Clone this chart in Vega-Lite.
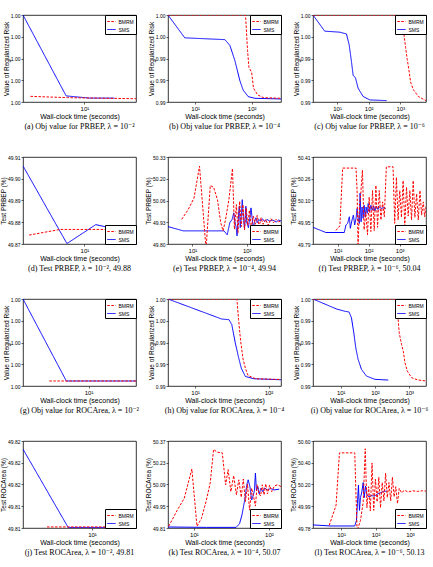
{
  "$schema": "https://vega.github.io/schema/vega-lite/v6.json",
  "background": "white",
  "padding": {"left": 0, "top": 12, "right": 0, "bottom": 0},
  "columns": 3,
  "bounds": "flush",
  "spacing": {"row": 55, "column": 32},
  "resolve": {
    "scale": {"x": "independent", "y": "independent", "color": "independent", "strokeDash": "independent"},
    "legend": {"color": "independent", "strokeDash": "independent"}
  },
  "datasets": {
    "a": [
      {"method": "SMS", "time": 2.86, "value": 1.004},
      {"method": "SMS", "time": 6.89, "value": 1.00028},
      {"method": "SMS", "time": 11.1, "value": 1.00018},
      {"method": "SMS", "time": 18.4, "value": 1.00018},
      {"method": "BMRM", "time": 3.33, "value": 1.00026},
      {"method": "BMRM", "time": 7.1, "value": 1.0002},
      {"method": "BMRM", "time": 28.6, "value": 1.00015}
    ],
    "b": [
      {"method": "SMS", "time": 3.31, "value": 1.002},
      {"method": "SMS", "time": 6.55, "value": 0.9978},
      {"method": "SMS", "time": 33.6, "value": 0.99747},
      {"method": "SMS", "time": 41.2, "value": 0.99642},
      {"method": "SMS", "time": 50.5, "value": 0.99363},
      {"method": "SMS", "time": 62, "value": 0.9899},
      {"method": "SMS", "time": 71, "value": 0.98817},
      {"method": "SMS", "time": 87, "value": 0.98699},
      {"method": "SMS", "time": 114, "value": 0.98668},
      {"method": "SMS", "time": 331, "value": 0.98656},
      {"method": "BMRM", "time": 3.31, "value": 1.002},
      {"method": "BMRM", "time": 78, "value": 1.002},
      {"method": "BMRM", "time": 84.7, "value": 0.99549},
      {"method": "BMRM", "time": 89.5, "value": 0.99239},
      {"method": "BMRM", "time": 100, "value": 0.99146},
      {"method": "BMRM", "time": 108, "value": 0.98854},
      {"method": "BMRM", "time": 128, "value": 0.9873},
      {"method": "BMRM", "time": 161, "value": 0.9868},
      {"method": "BMRM", "time": 331, "value": 0.98668}
    ],
    "c": [
      {"method": "SMS", "time": 1.74, "value": 1.002},
      {"method": "SMS", "time": 4.07, "value": 0.99903},
      {"method": "SMS", "time": 12.2, "value": 0.99884},
      {"method": "SMS", "time": 19.8, "value": 0.99852},
      {"method": "SMS", "time": 24, "value": 0.99662},
      {"method": "SMS", "time": 28.5, "value": 0.99346},
      {"method": "SMS", "time": 32.2, "value": 0.99093},
      {"method": "SMS", "time": 38.2, "value": 0.99043},
      {"method": "SMS", "time": 46.3, "value": 0.98853},
      {"method": "SMS", "time": 66.8, "value": 0.98701},
      {"method": "SMS", "time": 109, "value": 0.98638},
      {"method": "SMS", "time": 366, "value": 0.98626},
      {"method": "BMRM", "time": 1.74, "value": 1.002},
      {"method": "BMRM", "time": 1094, "value": 1.002},
      {"method": "BMRM", "time": 1297, "value": 0.99852},
      {"method": "BMRM", "time": 1466, "value": 0.996},
      {"method": "BMRM", "time": 1652, "value": 0.99378},
      {"method": "BMRM", "time": 1866, "value": 0.99188},
      {"method": "BMRM", "time": 2109, "value": 0.98967},
      {"method": "BMRM", "time": 2570, "value": 0.98828},
      {"method": "BMRM", "time": 3690, "value": 0.98701},
      {"method": "BMRM", "time": 6457, "value": 0.98626}
    ],
    "d": [
      {"method": "SMS", "time": 2.86, "value": 49.9059},
      {"method": "SMS", "time": 7.0, "value": 49.8702},
      {"method": "SMS", "time": 12.6, "value": 49.8789},
      {"method": "SMS", "time": 19.6, "value": 49.8767},
      {"method": "SMS", "time": 24.1, "value": 49.8767},
      {"method": "BMRM", "time": 3.24, "value": 49.8741},
      {"method": "BMRM", "time": 6.1, "value": 49.8767},
      {"method": "BMRM", "time": 19.6, "value": 49.8767},
      {"method": "BMRM", "time": 28.6, "value": 49.8767}
    ],
    "e": [
      {"method": "SMS", "time": 3.55, "value": 49.906},
      {"method": "SMS", "time": 6.79, "value": 49.88},
      {"method": "SMS", "time": 38.1, "value": 49.88},
      {"method": "SMS", "time": 43.7, "value": 49.856},
      {"method": "SMS", "time": 48.8, "value": 49.93},
      {"method": "SMS", "time": 53.8, "value": 49.95},
      {"method": "SMS", "time": 57.7, "value": 49.99},
      {"method": "SMS", "time": 60.1, "value": 49.94},
      {"method": "SMS", "time": 63.5, "value": 49.906},
      {"method": "SMS", "time": 66.2, "value": 49.85},
      {"method": "SMS", "time": 69.0, "value": 49.93},
      {"method": "SMS", "time": 72.9, "value": 50.03},
      {"method": "SMS", "time": 76.0, "value": 49.9},
      {"method": "SMS", "time": 79.3, "value": 49.97},
      {"method": "SMS", "time": 82.6, "value": 50.07},
      {"method": "SMS", "time": 87.3, "value": 49.95},
      {"method": "SMS", "time": 91.0, "value": 49.894},
      {"method": "SMS", "time": 96.2, "value": 50.03},
      {"method": "SMS", "time": 100.2, "value": 49.93},
      {"method": "SMS", "time": 107.4, "value": 49.9},
      {"method": "SMS", "time": 115.1, "value": 49.97},
      {"method": "SMS", "time": 119.7, "value": 50.02},
      {"method": "SMS", "time": 126.5, "value": 49.95},
      {"method": "SMS", "time": 131.9, "value": 49.894},
      {"method": "SMS", "time": 139.3, "value": 49.94},
      {"method": "SMS", "time": 147.2, "value": 49.96},
      {"method": "SMS", "time": 155.6, "value": 49.93},
      {"method": "SMS", "time": 166.7, "value": 49.95},
      {"method": "SMS", "time": 178.6, "value": 49.94},
      {"method": "SMS", "time": 194.1, "value": 49.954},
      {"method": "SMS", "time": 213.8, "value": 49.936},
      {"method": "SMS", "time": 235.5, "value": 49.95},
      {"method": "SMS", "time": 263, "value": 49.94},
      {"method": "SMS", "time": 302, "value": 49.946},
      {"method": "SMS", "time": 347, "value": 49.934},
      {"method": "SMS", "time": 387, "value": 49.946},
      {"method": "SMS", "time": 427, "value": 49.94},
      {"method": "BMRM", "time": 6.34, "value": 49.95},
      {"method": "BMRM", "time": 8.36, "value": 50.01},
      {"method": "BMRM", "time": 10.7, "value": 50.08},
      {"method": "BMRM", "time": 13.5, "value": 50.274},
      {"method": "BMRM", "time": 17.8, "value": 49.77},
      {"method": "BMRM", "time": 21.3, "value": 50.156},
      {"method": "BMRM", "time": 24.5, "value": 50.146},
      {"method": "BMRM", "time": 28.9, "value": 50.07},
      {"method": "BMRM", "time": 33.2, "value": 49.93},
      {"method": "BMRM", "time": 36.6, "value": 49.88},
      {"method": "BMRM", "time": 40.8, "value": 49.95},
      {"method": "BMRM", "time": 46.9, "value": 50.07},
      {"method": "BMRM", "time": 54.6, "value": 50.26},
      {"method": "BMRM", "time": 59.3, "value": 49.89},
      {"method": "BMRM", "time": 64.4, "value": 50.04},
      {"method": "BMRM", "time": 69.0, "value": 49.87},
      {"method": "BMRM", "time": 74.0, "value": 50.06},
      {"method": "BMRM", "time": 79.3, "value": 49.906},
      {"method": "BMRM", "time": 84.9, "value": 50.04},
      {"method": "BMRM", "time": 91.0, "value": 49.886},
      {"method": "BMRM", "time": 97.5, "value": 50.02},
      {"method": "BMRM", "time": 104.5, "value": 49.914},
      {"method": "BMRM", "time": 111.9, "value": 50.006},
      {"method": "BMRM", "time": 121.4, "value": 49.9},
      {"method": "BMRM", "time": 131.9, "value": 49.97},
      {"method": "BMRM", "time": 143.2, "value": 49.92},
      {"method": "BMRM", "time": 155.6, "value": 49.974},
      {"method": "BMRM", "time": 169.0, "value": 49.906},
      {"method": "BMRM", "time": 183.6, "value": 49.96},
      {"method": "BMRM", "time": 199.5, "value": 49.92},
      {"method": "BMRM", "time": 222.8, "value": 49.95},
      {"method": "BMRM", "time": 248.9, "value": 49.914},
      {"method": "BMRM", "time": 278, "value": 49.954},
      {"method": "BMRM", "time": 310, "value": 49.93},
      {"method": "BMRM", "time": 347, "value": 49.95},
      {"method": "BMRM", "time": 387, "value": 49.934},
      {"method": "BMRM", "time": 427, "value": 49.944}
    ],
    "f": [
      {"method": "SMS", "time": 1.62, "value": 49.909},
      {"method": "SMS", "time": 4.19, "value": 49.872},
      {"method": "SMS", "time": 16.5, "value": 49.872},
      {"method": "SMS", "time": 18.7, "value": 49.926},
      {"method": "SMS", "time": 21.2, "value": 49.937},
      {"method": "SMS", "time": 24.0, "value": 49.984},
      {"method": "SMS", "time": 25.8, "value": 49.902},
      {"method": "SMS", "time": 29.3, "value": 49.961},
      {"method": "SMS", "time": 32.4, "value": 49.996},
      {"method": "SMS", "time": 35.7, "value": 49.926},
      {"method": "SMS", "time": 39.5, "value": 49.973},
      {"method": "SMS", "time": 42.6, "value": 50.043},
      {"method": "SMS", "time": 47.0, "value": 49.961},
      {"method": "SMS", "time": 50.7, "value": 49.937},
      {"method": "SMS", "time": 53.3, "value": 50.153},
      {"method": "SMS", "time": 57.4, "value": 49.949},
      {"method": "SMS", "time": 61.9, "value": 50.054},
      {"method": "SMS", "time": 66.7, "value": 49.973},
      {"method": "SMS", "time": 71.9, "value": 50.066},
      {"method": "SMS", "time": 77.5, "value": 49.984},
      {"method": "SMS", "time": 83.6, "value": 50.054},
      {"method": "SMS", "time": 90.0, "value": 50.008},
      {"method": "SMS", "time": 97.1, "value": 50.078},
      {"method": "SMS", "time": 107.2, "value": 50.019},
      {"method": "SMS", "time": 118.4, "value": 50.066},
      {"method": "SMS", "time": 130.9, "value": 50.031},
      {"method": "SMS", "time": 144.5, "value": 50.059},
      {"method": "SMS", "time": 159.7, "value": 50.026},
      {"method": "SMS", "time": 176.6, "value": 50.059},
      {"method": "SMS", "time": 200, "value": 50.036},
      {"method": "SMS", "time": 226.5, "value": 50.054},
      {"method": "SMS", "time": 256.6, "value": 50.043},
      {"method": "SMS", "time": 305.5, "value": 50.05},
      {"method": "SMS", "time": 354.8, "value": 50.043},
      {"method": "BMRM", "time": 8.85, "value": 49.886},
      {"method": "BMRM", "time": 11.9, "value": 49.919},
      {"method": "BMRM", "time": 14.6, "value": 50.331},
      {"method": "BMRM", "time": 39.5, "value": 50.331},
      {"method": "BMRM", "time": 42.6, "value": 50.171},
      {"method": "BMRM", "time": 45.9, "value": 49.774},
      {"method": "BMRM", "time": 50.7, "value": 50.054},
      {"method": "BMRM", "time": 56.0, "value": 50.148},
      {"method": "BMRM", "time": 63.4, "value": 50.317},
      {"method": "BMRM", "time": 71.9, "value": 49.891},
      {"method": "BMRM", "time": 81.5, "value": 50.019},
      {"method": "BMRM", "time": 92.3, "value": 49.856},
      {"method": "BMRM", "time": 104.5, "value": 50.125},
      {"method": "BMRM", "time": 118.4, "value": 49.879},
      {"method": "BMRM", "time": 134.0, "value": 50.171},
      {"method": "BMRM", "time": 152.1, "value": 49.886},
      {"method": "BMRM", "time": 172.2, "value": 50.207},
      {"method": "BMRM", "time": 195.0, "value": 49.909},
      {"method": "BMRM", "time": 220.8, "value": 50.171},
      {"method": "BMRM", "time": 250.0, "value": 49.961},
      {"method": "BMRM", "time": 283.1, "value": 50.09},
      {"method": "BMRM", "time": 321.4, "value": 49.984},
      {"method": "BMRM", "time": 373.3, "value": 50.34},
      {"method": "BMRM", "time": 614, "value": 50.34},
      {"method": "BMRM", "time": 695, "value": 49.937},
      {"method": "BMRM", "time": 789, "value": 50.265},
      {"method": "BMRM", "time": 893, "value": 49.961},
      {"method": "BMRM", "time": 1012, "value": 50.171},
      {"method": "BMRM", "time": 1146, "value": 49.98},
      {"method": "BMRM", "time": 1297, "value": 50.242},
      {"method": "BMRM", "time": 1469, "value": 49.919},
      {"method": "BMRM", "time": 1667, "value": 50.195},
      {"method": "BMRM", "time": 1888, "value": 49.989},
      {"method": "BMRM", "time": 2138, "value": 50.171},
      {"method": "BMRM", "time": 2421, "value": 49.961},
      {"method": "BMRM", "time": 2742, "value": 50.242},
      {"method": "BMRM", "time": 3105, "value": 49.98},
      {"method": "BMRM", "time": 3524, "value": 50.148},
      {"method": "BMRM", "time": 3990, "value": 49.961},
      {"method": "BMRM", "time": 4519, "value": 50.171},
      {"method": "BMRM", "time": 5117, "value": 49.996},
      {"method": "BMRM", "time": 5794, "value": 50.09},
      {"method": "BMRM", "time": 6400, "value": 49.984},
      {"method": "BMRM", "time": 7079, "value": 50.054}
    ],
    "g": [
      {"method": "SMS", "time": 2.63, "value": 1.004},
      {"method": "SMS", "time": 6.36, "value": 1.00023},
      {"method": "SMS", "time": 26.3, "value": 1.00023},
      {"method": "BMRM", "time": 4.5, "value": 1.00023},
      {"method": "BMRM", "time": 26.3, "value": 1.00023}
    ],
    "h": [
      {"method": "SMS", "time": 4.27, "value": 1.002},
      {"method": "SMS", "time": 22.96, "value": 0.99832},
      {"method": "SMS", "time": 29.0, "value": 0.99819},
      {"method": "SMS", "time": 31.6, "value": 0.9973},
      {"method": "SMS", "time": 35.2, "value": 0.99397},
      {"method": "SMS", "time": 39.1, "value": 0.99125},
      {"method": "SMS", "time": 42.6, "value": 0.98926},
      {"method": "SMS", "time": 48.4, "value": 0.98775},
      {"method": "SMS", "time": 63.3, "value": 0.98733},
      {"method": "SMS", "time": 148, "value": 0.98715},
      {"method": "BMRM", "time": 4.27, "value": 1.002},
      {"method": "BMRM", "time": 37.1, "value": 1.002},
      {"method": "BMRM", "time": 39.1, "value": 0.99819},
      {"method": "BMRM", "time": 41.7, "value": 0.99427},
      {"method": "BMRM", "time": 45.0, "value": 0.99095},
      {"method": "BMRM", "time": 48.4, "value": 0.98926},
      {"method": "BMRM", "time": 52.7, "value": 0.98793},
      {"method": "BMRM", "time": 66.7, "value": 0.98733},
      {"method": "BMRM", "time": 148, "value": 0.9872}
    ],
    "i": [
      {"method": "SMS", "time": 1.55, "value": 0.998},
      {"method": "SMS", "time": 7.46, "value": 0.99663},
      {"method": "SMS", "time": 13.1, "value": 0.99631},
      {"method": "SMS", "time": 17.5, "value": 0.99621},
      {"method": "SMS", "time": 20.6, "value": 0.99539},
      {"method": "SMS", "time": 24.1, "value": 0.99333},
      {"method": "SMS", "time": 27.5, "value": 0.99127},
      {"method": "SMS", "time": 32.2, "value": 0.98966},
      {"method": "SMS", "time": 40.4, "value": 0.98829},
      {"method": "SMS", "time": 56.5, "value": 0.98737},
      {"method": "SMS", "time": 99.1, "value": 0.98692},
      {"method": "SMS", "time": 244, "value": 0.98682},
      {"method": "BMRM", "time": 1.55, "value": 0.998},
      {"method": "BMRM", "time": 428, "value": 0.998},
      {"method": "BMRM", "time": 457, "value": 0.99608},
      {"method": "BMRM", "time": 511, "value": 0.99333},
      {"method": "BMRM", "time": 598, "value": 0.99173},
      {"method": "BMRM", "time": 670, "value": 0.99081},
      {"method": "BMRM", "time": 751, "value": 0.9892},
      {"method": "BMRM", "time": 880, "value": 0.98806},
      {"method": "BMRM", "time": 1178, "value": 0.98714},
      {"method": "BMRM", "time": 1845, "value": 0.98682},
      {"method": "BMRM", "time": 3090, "value": 0.98669}
    ],
    "j": [
      {"method": "SMS", "time": 2.45, "value": 49.8225},
      {"method": "SMS", "time": 6.15, "value": 49.8081},
      {"method": "SMS", "time": 24.5, "value": 49.8081},
      {"method": "BMRM", "time": 4.0, "value": 49.8082},
      {"method": "BMRM", "time": 24.5, "value": 49.8082}
    ],
    "k": [
      {"method": "SMS", "time": 4.52, "value": 49.8165},
      {"method": "SMS", "time": 14.8, "value": 49.814},
      {"method": "SMS", "time": 36.5, "value": 49.814},
      {"method": "SMS", "time": 40.6, "value": 49.838},
      {"method": "SMS", "time": 43.7, "value": 49.893},
      {"method": "SMS", "time": 47.6, "value": 49.99},
      {"method": "SMS", "time": 50.7, "value": 50.088},
      {"method": "SMS", "time": 52.9, "value": 50.12},
      {"method": "SMS", "time": 55.8, "value": 50.077},
      {"method": "SMS", "time": 58.9, "value": 49.99},
      {"method": "SMS", "time": 61.4, "value": 50.016},
      {"method": "SMS", "time": 64.1, "value": 50.051},
      {"method": "SMS", "time": 66.1, "value": 50.164},
      {"method": "SMS", "time": 68.2, "value": 50.051},
      {"method": "SMS", "time": 71.2, "value": 50.077},
      {"method": "SMS", "time": 74.3, "value": 50.029},
      {"method": "SMS", "time": 78.3, "value": 50.066},
      {"method": "SMS", "time": 82.6, "value": 50.044},
      {"method": "SMS", "time": 88.1, "value": 50.068},
      {"method": "SMS", "time": 94.8, "value": 50.055},
      {"method": "SMS", "time": 105.4, "value": 50.064},
      {"method": "SMS", "time": 117.2, "value": 50.055},
      {"method": "SMS", "time": 137.4, "value": 50.06},
      {"method": "BMRM", "time": 4.62, "value": 49.821},
      {"method": "BMRM", "time": 6.01, "value": 49.925},
      {"method": "BMRM", "time": 7.44, "value": 50.001},
      {"method": "BMRM", "time": 9.4, "value": 50.19},
      {"method": "BMRM", "time": 11.0, "value": 49.821},
      {"method": "BMRM", "time": 12.6, "value": 49.871},
      {"method": "BMRM", "time": 14.5, "value": 49.979},
      {"method": "BMRM", "time": 16.5, "value": 50.099},
      {"method": "BMRM", "time": 18.3, "value": 50.316},
      {"method": "BMRM", "time": 20.4, "value": 50.298},
      {"method": "BMRM", "time": 23.9, "value": 50.294},
      {"method": "BMRM", "time": 26.5, "value": 50.088},
      {"method": "BMRM", "time": 28.6, "value": 50.186},
      {"method": "BMRM", "time": 31.1, "value": 50.044},
      {"method": "BMRM", "time": 33.9, "value": 50.147},
      {"method": "BMRM", "time": 36.9, "value": 50.023},
      {"method": "BMRM", "time": 39.7, "value": 50.12},
      {"method": "BMRM", "time": 42.8, "value": 50.008},
      {"method": "BMRM", "time": 45.6, "value": 50.125},
      {"method": "BMRM", "time": 48.6, "value": 49.979},
      {"method": "BMRM", "time": 51.8, "value": 50.094},
      {"method": "BMRM", "time": 55.2, "value": 49.925},
      {"method": "BMRM", "time": 58.9, "value": 50.066},
      {"method": "BMRM", "time": 62.7, "value": 50.008},
      {"method": "BMRM", "time": 66.1, "value": 49.951},
      {"method": "BMRM", "time": 69.7, "value": 50.088},
      {"method": "BMRM", "time": 73.5, "value": 50.034},
      {"method": "BMRM", "time": 77.5, "value": 50.016},
      {"method": "BMRM", "time": 81.7, "value": 50.088},
      {"method": "BMRM", "time": 86.1, "value": 50.023},
      {"method": "BMRM", "time": 90.8, "value": 50.094},
      {"method": "BMRM", "time": 95.7, "value": 50.029},
      {"method": "BMRM", "time": 102.1, "value": 50.086},
      {"method": "BMRM", "time": 108.9, "value": 50.044},
      {"method": "BMRM", "time": 118.6, "value": 50.081},
      {"method": "BMRM", "time": 130.3, "value": 50.088},
      {"method": "BMRM", "time": 144.9, "value": 50.077}
    ],
    "l": [
      {"method": "SMS", "time": 1.53, "value": 49.814},
      {"method": "SMS", "time": 5.08, "value": 49.804},
      {"method": "SMS", "time": 24.9, "value": 49.804},
      {"method": "SMS", "time": 27.9, "value": 49.855},
      {"method": "SMS", "time": 29.8, "value": 50.015},
      {"method": "SMS", "time": 31.9, "value": 50.19},
      {"method": "SMS", "time": 34.1, "value": 49.951},
      {"method": "SMS", "time": 36.6, "value": 50.072},
      {"method": "SMS", "time": 40.0, "value": 50.126},
      {"method": "SMS", "time": 43.8, "value": 50.213},
      {"method": "SMS", "time": 46.9, "value": 50.072},
      {"method": "SMS", "time": 51.4, "value": 50.181},
      {"method": "SMS", "time": 56.2, "value": 50.095},
      {"method": "SMS", "time": 64.4, "value": 50.079},
      {"method": "SMS", "time": 77.3, "value": 50.091},
      {"method": "SMS", "time": 92.7, "value": 50.085},
      {"method": "SMS", "time": 111.2, "value": 50.104},
      {"method": "SMS", "time": 136.2, "value": 50.117},
      {"method": "SMS", "time": 171, "value": 50.13},
      {"method": "SMS", "time": 214, "value": 50.133},
      {"method": "BMRM", "time": 4.54, "value": 49.811},
      {"method": "BMRM", "time": 7.14, "value": 49.999},
      {"method": "BMRM", "time": 8.96, "value": 50.493},
      {"method": "BMRM", "time": 24.9, "value": 50.493},
      {"method": "BMRM", "time": 26.6, "value": 50.174},
      {"method": "BMRM", "time": 29.2, "value": 49.76},
      {"method": "BMRM", "time": 36.6, "value": 49.855},
      {"method": "BMRM", "time": 43.8, "value": 50.031},
      {"method": "BMRM", "time": 50.2, "value": 50.532},
      {"method": "BMRM", "time": 56.2, "value": 49.976},
      {"method": "BMRM", "time": 63.0, "value": 50.174},
      {"method": "BMRM", "time": 70.6, "value": 49.945},
      {"method": "BMRM", "time": 79.1, "value": 50.398},
      {"method": "BMRM", "time": 88.5, "value": 49.951},
      {"method": "BMRM", "time": 99.1, "value": 50.245},
      {"method": "BMRM", "time": 111.2, "value": 50.031},
      {"method": "BMRM", "time": 124.5, "value": 50.264},
      {"method": "BMRM", "time": 139.3, "value": 49.976},
      {"method": "BMRM", "time": 156.0, "value": 50.213},
      {"method": "BMRM", "time": 174.9, "value": 50.04},
      {"method": "BMRM", "time": 195.9, "value": 50.302},
      {"method": "BMRM", "time": 219.3, "value": 50.072},
      {"method": "BMRM", "time": 245.5, "value": 50.213},
      {"method": "BMRM", "time": 275.4, "value": 50.04},
      {"method": "BMRM", "time": 308.3, "value": 50.264},
      {"method": "BMRM", "time": 345.1, "value": 50.079},
      {"method": "BMRM", "time": 386.4, "value": 50.174},
      {"method": "BMRM", "time": 433.5, "value": 50.015},
      {"method": "BMRM", "time": 485.3, "value": 50.158},
      {"method": "BMRM", "time": 568.9, "value": 50.117},
      {"method": "BMRM", "time": 696.6, "value": 50.142},
      {"method": "BMRM", "time": 875, "value": 50.123},
      {"method": "BMRM", "time": 1175, "value": 50.136},
      {"method": "BMRM", "time": 1652, "value": 50.13},
      {"method": "BMRM", "time": 2323, "value": 50.136},
      {"method": "BMRM", "time": 2911, "value": 50.133}
    ]
  },
  "concat": [
    {
      "data": {"name": "a"}, "width": 113, "height": 87,
      "title": "(a) Obj value for PRBEP, λ = 10⁻²",
      "mark": {"type": "line", "clip": true, "strokeWidth": 1},
      "encoding": {
        "x": {"field": "time", "type": "quantitative", "scale": {"type": "log", "domain": [2.86, 28.6], "nice": false}, "axis": {"values": [10], "title": "Wall-clock time (seconds)"}},
        "y": {"field": "value", "type": "quantitative", "scale": {"domain": [1.0, 1.004], "nice": false, "zero": false}, "axis": {"values": [1.0, 1.001, 1.002, 1.003, 1.004], "format": ".2f", "title": "Value of Regularized Risk"}},
        "color": {"field": "method", "type": "nominal", "scale": {"domain": ["BMRM", "SMS"], "range": ["#ff0000", "#0000ff"]}, "legend": {"title": null, "orient": "top-right"}},
        "strokeDash": {"field": "method", "type": "nominal", "scale": {"domain": ["BMRM", "SMS"], "range": [[2.5, 1.5], [1, 0]]}, "legend": {"title": null, "orient": "top-right"}}
      }
    },
    {
      "data": {"name": "b"}, "width": 113, "height": 87,
      "title": "(b) Obj value for PRBEP, λ = 10⁻⁴",
      "mark": {"type": "line", "clip": true, "strokeWidth": 1},
      "encoding": {
        "x": {"field": "time", "type": "quantitative", "scale": {"type": "log", "domain": [3.31, 331], "nice": false}, "axis": {"values": [10, 100], "title": "Wall-clock time (seconds)"}},
        "y": {"field": "value", "type": "quantitative", "scale": {"domain": [0.986, 1.002], "nice": false, "zero": false}, "axis": {"values": [0.986, 0.99, 0.994, 0.998, 1.002], "format": ".2f", "title": "Value of Regularized Risk"}},
        "color": {"field": "method", "type": "nominal", "scale": {"domain": ["BMRM", "SMS"], "range": ["#ff0000", "#0000ff"]}, "legend": {"title": null, "orient": "top-right"}},
        "strokeDash": {"field": "method", "type": "nominal", "scale": {"domain": ["BMRM", "SMS"], "range": [[2.5, 1.5], [1, 0]]}, "legend": {"title": null, "orient": "top-right"}}
      }
    },
    {
      "data": {"name": "c"}, "width": 113, "height": 87,
      "title": "(c) Obj value for PRBEP, λ = 10⁻⁶",
      "mark": {"type": "line", "clip": true, "strokeWidth": 1},
      "encoding": {
        "x": {"field": "time", "type": "quantitative", "scale": {"type": "log", "domain": [1.74, 6457], "nice": false}, "axis": {"values": [10, 100, 1000], "title": "Wall-clock time (seconds)"}},
        "y": {"field": "value", "type": "quantitative", "scale": {"domain": [0.986, 1.002], "nice": false, "zero": false}, "axis": {"values": [0.986, 0.99, 0.994, 0.998, 1.002], "format": ".2f", "title": "Value of Regularized Risk"}},
        "color": {"field": "method", "type": "nominal", "scale": {"domain": ["BMRM", "SMS"], "range": ["#ff0000", "#0000ff"]}, "legend": {"title": null, "orient": "top-right"}},
        "strokeDash": {"field": "method", "type": "nominal", "scale": {"domain": ["BMRM", "SMS"], "range": [[2.5, 1.5], [1, 0]]}, "legend": {"title": null, "orient": "top-right"}}
      }
    },
    {
      "data": {"name": "d"}, "width": 113, "height": 87,
      "title": "(d) Test PRBEP, λ = 10⁻², 49.88",
      "mark": {"type": "line", "clip": true, "strokeWidth": 1},
      "encoding": {
        "x": {"field": "time", "type": "quantitative", "scale": {"type": "log", "domain": [2.86, 28.6], "nice": false}, "axis": {"values": [10], "title": "Wall-clock time (seconds)"}},
        "y": {"field": "value", "type": "quantitative", "scale": {"domain": [49.87, 49.91], "nice": false, "zero": false}, "axis": {"values": [49.87, 49.88, 49.89, 49.9, 49.91], "format": ".2f", "title": "Test PRBEP (%)"}},
        "color": {"field": "method", "type": "nominal", "scale": {"domain": ["BMRM", "SMS"], "range": ["#ff0000", "#0000ff"]}, "legend": {"title": null, "orient": "bottom-right"}},
        "strokeDash": {"field": "method", "type": "nominal", "scale": {"domain": ["BMRM", "SMS"], "range": [[2.5, 1.5], [1, 0]]}, "legend": {"title": null, "orient": "bottom-right"}}
      }
    },
    {
      "data": {"name": "e"}, "width": 113, "height": 87,
      "title": "(e) Test PRBEP, λ = 10⁻⁴, 49.94",
      "mark": {"type": "line", "clip": true, "strokeWidth": 1},
      "encoding": {
        "x": {"field": "time", "type": "quantitative", "scale": {"type": "log", "domain": [3.55, 427], "nice": false}, "axis": {"values": [10, 100], "title": "Wall-clock time (seconds)"}},
        "y": {"field": "value", "type": "quantitative", "scale": {"domain": [49.8, 50.33], "nice": false, "zero": false}, "axis": {"values": [49.8, 49.9325, 50.065, 50.1975, 50.33], "format": ".2f", "title": "Test PRBEP (%)"}},
        "color": {"field": "method", "type": "nominal", "scale": {"domain": ["BMRM", "SMS"], "range": ["#ff0000", "#0000ff"]}, "legend": {"title": null, "orient": "bottom-right"}},
        "strokeDash": {"field": "method", "type": "nominal", "scale": {"domain": ["BMRM", "SMS"], "range": [[2.5, 1.5], [1, 0]]}, "legend": {"title": null, "orient": "bottom-right"}}
      }
    },
    {
      "data": {"name": "f"}, "width": 113, "height": 87,
      "title": "(f) Test PRBEP, λ = 10⁻⁶, 50.04",
      "mark": {"type": "line", "clip": true, "strokeWidth": 1},
      "encoding": {
        "x": {"field": "time", "type": "quantitative", "scale": {"type": "log", "domain": [1.62, 7079], "nice": false}, "axis": {"values": [10, 100, 1000], "title": "Wall-clock time (seconds)"}},
        "y": {"field": "value", "type": "quantitative", "scale": {"domain": [49.79, 50.41], "nice": false, "zero": false}, "axis": {"values": [49.79, 49.945, 50.1, 50.255, 50.41], "format": ".2f", "title": "Test PRBEP (%)"}},
        "color": {"field": "method", "type": "nominal", "scale": {"domain": ["BMRM", "SMS"], "range": ["#ff0000", "#0000ff"]}, "legend": {"title": null, "orient": "bottom-right"}},
        "strokeDash": {"field": "method", "type": "nominal", "scale": {"domain": ["BMRM", "SMS"], "range": [[2.5, 1.5], [1, 0]]}, "legend": {"title": null, "orient": "bottom-right"}}
      }
    },
    {
      "data": {"name": "g"}, "width": 113, "height": 87,
      "title": "(g) Obj value for ROCArea, λ = 10⁻²",
      "mark": {"type": "line", "clip": true, "strokeWidth": 1},
      "encoding": {
        "x": {"field": "time", "type": "quantitative", "scale": {"type": "log", "domain": [2.63, 26.3], "nice": false}, "axis": {"values": [10], "title": "Wall-clock time (seconds)"}},
        "y": {"field": "value", "type": "quantitative", "scale": {"domain": [1.0, 1.004], "nice": false, "zero": false}, "axis": {"values": [1.0, 1.001, 1.002, 1.003, 1.004], "format": ".2f", "title": "Value of Regularized Risk"}},
        "color": {"field": "method", "type": "nominal", "scale": {"domain": ["BMRM", "SMS"], "range": ["#ff0000", "#0000ff"]}, "legend": {"title": null, "orient": "top-right"}},
        "strokeDash": {"field": "method", "type": "nominal", "scale": {"domain": ["BMRM", "SMS"], "range": [[2.5, 1.5], [1, 0]]}, "legend": {"title": null, "orient": "top-right"}}
      }
    },
    {
      "data": {"name": "h"}, "width": 113, "height": 87,
      "title": "(h) Obj value for ROCArea, λ = 10⁻⁴",
      "mark": {"type": "line", "clip": true, "strokeWidth": 1},
      "encoding": {
        "x": {"field": "time", "type": "quantitative", "scale": {"type": "log", "domain": [4.27, 148], "nice": false}, "axis": {"values": [10, 100], "title": "Wall-clock time (seconds)"}},
        "y": {"field": "value", "type": "quantitative", "scale": {"domain": [0.986, 1.002], "nice": false, "zero": false}, "axis": {"values": [0.986, 0.99, 0.994, 0.998, 1.002], "format": ".2f", "title": "Value of Regularized Risk"}},
        "color": {"field": "method", "type": "nominal", "scale": {"domain": ["BMRM", "SMS"], "range": ["#ff0000", "#0000ff"]}, "legend": {"title": null, "orient": "top-right"}},
        "strokeDash": {"field": "method", "type": "nominal", "scale": {"domain": ["BMRM", "SMS"], "range": [[2.5, 1.5], [1, 0]]}, "legend": {"title": null, "orient": "top-right"}}
      }
    },
    {
      "data": {"name": "i"}, "width": 113, "height": 87,
      "title": "(i) Obj value for ROCArea, λ = 10⁻⁶",
      "mark": {"type": "line", "clip": true, "strokeWidth": 1},
      "encoding": {
        "x": {"field": "time", "type": "quantitative", "scale": {"type": "log", "domain": [1.55, 3090], "nice": false}, "axis": {"values": [10, 100, 1000], "title": "Wall-clock time (seconds)"}},
        "y": {"field": "value", "type": "quantitative", "scale": {"domain": [0.986, 0.998], "nice": false, "zero": false}, "axis": {"values": [0.986, 0.989, 0.992, 0.995, 0.998], "format": ".2f", "title": "Value of Regularized Risk"}},
        "color": {"field": "method", "type": "nominal", "scale": {"domain": ["BMRM", "SMS"], "range": ["#ff0000", "#0000ff"]}, "legend": {"title": null, "orient": "top-right"}},
        "strokeDash": {"field": "method", "type": "nominal", "scale": {"domain": ["BMRM", "SMS"], "range": [[2.5, 1.5], [1, 0]]}, "legend": {"title": null, "orient": "top-right"}}
      }
    },
    {
      "data": {"name": "j"}, "width": 113, "height": 87,
      "title": "(j) Test ROCArea, λ = 10⁻², 49.81",
      "mark": {"type": "line", "clip": true, "strokeWidth": 1},
      "encoding": {
        "x": {"field": "time", "type": "quantitative", "scale": {"type": "log", "domain": [2.45, 24.5], "nice": false}, "axis": {"values": [10], "title": "Wall-clock time (seconds)"}},
        "y": {"field": "value", "type": "quantitative", "scale": {"domain": [49.808, 49.824], "nice": false, "zero": false}, "axis": {"values": [49.808, 49.812, 49.816, 49.82, 49.824], "format": ".2f", "title": "Test ROCArea (%)"}},
        "color": {"field": "method", "type": "nominal", "scale": {"domain": ["BMRM", "SMS"], "range": ["#ff0000", "#0000ff"]}, "legend": {"title": null, "orient": "bottom-right"}},
        "strokeDash": {"field": "method", "type": "nominal", "scale": {"domain": ["BMRM", "SMS"], "range": [[2.5, 1.5], [1, 0]]}, "legend": {"title": null, "orient": "bottom-right"}}
      }
    },
    {
      "data": {"name": "k"}, "width": 113, "height": 87,
      "title": "(k) Test ROCArea, λ = 10⁻⁴, 50.07",
      "mark": {"type": "line", "clip": true, "strokeWidth": 1},
      "encoding": {
        "x": {"field": "time", "type": "quantitative", "scale": {"type": "log", "domain": [4.52, 144.9], "nice": false}, "axis": {"values": [10, 100], "title": "Wall-clock time (seconds)"}},
        "y": {"field": "value", "type": "quantitative", "scale": {"domain": [49.81, 50.37], "nice": false, "zero": false}, "axis": {"values": [49.81, 49.95, 50.09, 50.23, 50.37], "format": ".2f", "title": "Test ROCArea (%)"}},
        "color": {"field": "method", "type": "nominal", "scale": {"domain": ["BMRM", "SMS"], "range": ["#ff0000", "#0000ff"]}, "legend": {"title": null, "orient": "bottom-right"}},
        "strokeDash": {"field": "method", "type": "nominal", "scale": {"domain": ["BMRM", "SMS"], "range": [[2.5, 1.5], [1, 0]]}, "legend": {"title": null, "orient": "bottom-right"}}
      }
    },
    {
      "data": {"name": "l"}, "width": 113, "height": 87,
      "title": "(l) Test ROCArea, λ = 10⁻⁶, 50.13",
      "mark": {"type": "line", "clip": true, "strokeWidth": 1},
      "encoding": {
        "x": {"field": "time", "type": "quantitative", "scale": {"type": "log", "domain": [1.53, 2911], "nice": false}, "axis": {"values": [10, 100, 1000], "title": "Wall-clock time (seconds)"}},
        "y": {"field": "value", "type": "quantitative", "scale": {"domain": [49.785, 50.605], "nice": false, "zero": false}, "axis": {"values": [49.785, 49.99, 50.195, 50.4, 50.605], "format": ".2f", "title": "Test ROCArea (%)"}},
        "color": {"field": "method", "type": "nominal", "scale": {"domain": ["BMRM", "SMS"], "range": ["#ff0000", "#0000ff"]}, "legend": {"title": null, "orient": "bottom-right"}},
        "strokeDash": {"field": "method", "type": "nominal", "scale": {"domain": ["BMRM", "SMS"], "range": [[2.5, 1.5], [1, 0]]}, "legend": {"title": null, "orient": "bottom-right"}}
      }
    }
  ],
  "config": {
    "view": {"stroke": "black", "strokeWidth": 0.8},
    "axis": {
      "grid": false, "domain": false, "ticks": true, "tickSize": 2, "tickColor": "black", "tickWidth": 0.6,
      "labelFont": "Liberation Sans", "labelFontSize": 5, "labelColor": "black", "labelPadding": 1,
      "titleFont": "Liberation Sans", "titleFontSize": 6.5, "titleFontWeight": "normal", "titleColor": "black", "titlePadding": 1
    },
    "axisX": {"labelExpr": "'10' + (datum.value < 50 ? '¹' : datum.value < 500 ? '²' : '³')", "labelFontSize": 6, "titleFontSize": 7, "titlePadding": 1},
    "title": {"orient": "bottom", "frame": "group", "anchor": "middle", "font": "Liberation Serif, DejaVu Serif", "fontSize": 8, "fontWeight": "normal", "color": "black", "offset": 4},
    "legend": {
      "fillColor": "white", "strokeColor": "black", "padding": 1.5, "offset": 0, "cornerRadius": 0,
      "labelFont": "Liberation Sans", "labelFontSize": 5, "labelColor": "black", "labelOffset": 2,
      "symbolType": "stroke", "symbolSize": 70, "symbolStrokeWidth": 1, "rowPadding": 0
    }
  }
}
